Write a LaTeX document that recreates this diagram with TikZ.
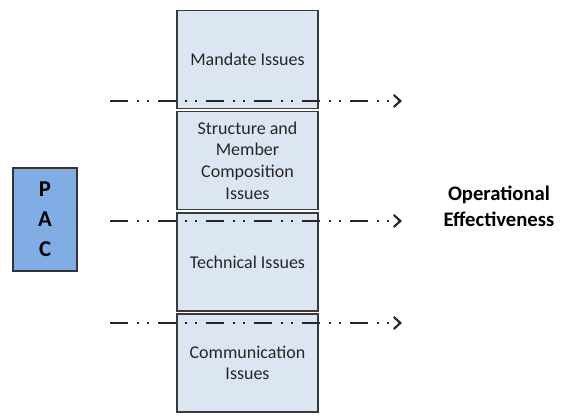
\documentclass[tikz,border=0pt]{standalone}
\usepackage{fontspec}
\setmainfont{Carlito}
\usepackage{tikz}
\usetikzlibrary{arrows.meta,positioning}
\definecolor{pacblue}{HTML}{80AEE4}
\definecolor{issuefill}{HTML}{DCE6F2}
\definecolor{edgegray}{HTML}{3A3A3A}

\begin{document}
\begin{tikzpicture}[x=0.75pt,y=-0.75pt,
  issue/.style={draw=edgegray,line width=0.8pt,fill=issuefill,
                minimum width=105.75pt,minimum height=73.5pt,align=center,inner sep=1pt,
                font=\fontsize{13.5}{16.2}\selectfont,text=black!85},
  pac/.style={draw=black!80,line width=0.8pt,fill=pacblue,
              minimum width=48pt,minimum height=77.25pt,align=center,
              font=\fontsize{17}{22.5}\selectfont\bfseries},
  flow/.style={-{Straight Barb[length=5pt,width=9pt]},line width=1.6pt,black!85,
               dash pattern=on 13.5pt off 6.5pt on 1.5pt off 6.5pt on 1.5pt off 6.5pt}]
\useasboundingbox (0,0) rectangle (576,420);

\node[pac] (pac) at (45,219.5) {P\\A\\C};

% the four issue areas stacked in one column
\node[issue] (mandate) at (247.5,59.5)  {Mandate Issues};
\node[issue] (struct)  at (247.5,160.5) {Structure and\\Member\\Composition\\Issues};
\node[issue] (tech)    at (247.5,262)   {Technical Issues};
\node[issue] (comm)    at (247.5,363)   {Communication\\Issues};

\node[font=\fontsize{15.5}{19.5}\selectfont\bfseries,align=center] (eff) at (499,206)
  {Operational\\Effectiveness};

\coordinate (s1) at (110,101); \coordinate (e1) at (402,101);
\coordinate (s2) at (110,221); \coordinate (e2) at (402,221);
\coordinate (s3) at (110,323); \coordinate (e3) at (402,323);
\draw[flow] (s1) -- (e1);
\draw[flow] (s2) -- (e2);
\draw[flow] (s3) -- (e3);
\end{tikzpicture}
\end{document}
